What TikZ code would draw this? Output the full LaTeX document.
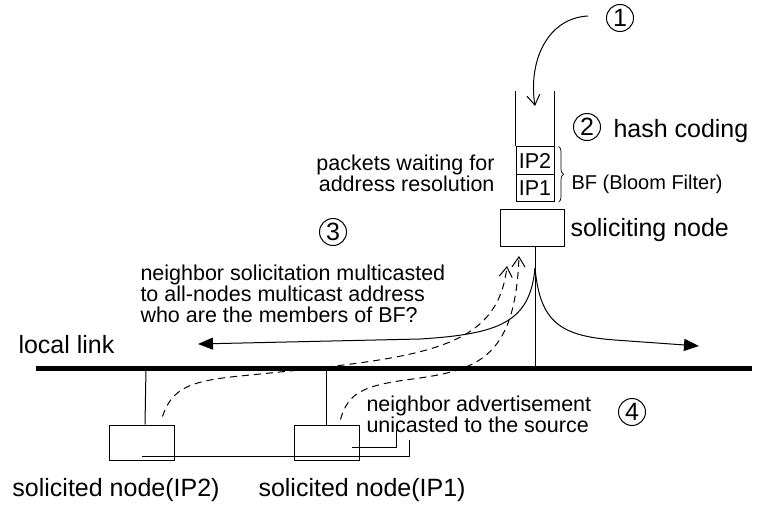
\documentclass[tikz,border=0pt]{standalone}
\usepackage{fontspec}
\setmainfont{Liberation Sans}
\usetikzlibrary{calc,arrows.meta,decorations.pathreplacing}
\newcommand{\bigsize}{\fontsize{25}{26}\selectfont}
\newcommand{\smallsize}{\fontsize{21.5}{21}\selectfont}
\newcommand{\numsize}{\fontsize{25}{25}\selectfont}
\def\linky{368}
\def\cellwdth{38}
\def\cellheight{27.5}

\begin{document}
\begin{tikzpicture}[x=1pt,y=-1pt,line width=1pt,
  num/.style={circle,draw,inner sep=0pt,minimum size=27pt,font=\numsize},
  cell/.style={draw,inner sep=0pt,minimum width=\cellwdth pt,minimum height=\cellheight pt,font=\smallsize},
  station/.style={draw,inner sep=0pt,minimum width=65pt,minimum height=35pt},
  lbl/.style={inner sep=0pt,font=\smallsize},
  biglbl/.style={inner sep=0pt,font=\bigsize},
  openarr/.style={-{Straight Barb[length=10pt,width=13pt]}},
  solidarr/.style={-{Triangle[length=15pt,width=12pt]}},
  reply/.style={openarr,dash pattern=on 7pt off 5pt}]

\useasboundingbox (0,0) rectangle (758,506);

% QUEUE
\node[cell] (cellb) at (535,160.5) {IP2};
\node[cell] (cella) at (535,188) {IP1};
\draw (cellb.north west) -- ++(0,-55);
\draw (cellb.north east) -- ++(0,-55);
\draw[line width=0.7pt,decorate,decoration={brace,amplitude=5pt}] ($(cellb.north east)+(4,0)$) -- ($(cella.south east)+(4,0)$);
\node[lbl,anchor=west,font=\fontsize{20}{21}\selectfont] (bf) at (571,184) {BF (Bloom Filter)};
\node[lbl,anchor=east,align=right] (pkt) at (495,173) {packets waiting for\\address resolution};

% STEP 1 AND 2
\node[num] (one) at (620,18) {1};
\coordinate (inflow) at (588,16);
\draw[openarr] (inflow) .. controls (548,18) and (528,60) .. (535,106);
\node[num] (two) at (587,127) {2};
\node[biglbl,anchor=west] (hash) at (613,131) {hash coding};

% SOLICITING NODE
\node[draw,inner sep=0pt,minimum width=64pt,minimum height=37pt] (solicit) at (532,227.5) {};
\node[biglbl,anchor=west] (solicitlbl) at (570,230) {soliciting node};
\coordinate (stem) at (535,\linky);
\coordinate (fork) at (535,268);
\draw (solicit.south -| stem) -- (stem);

% STEP 3
\node[num] (three) at (333,232) {3};
\node[lbl,anchor=west,align=left] (nsol) at (140,294) {neighbor solicitation multicasted\\to all-nodes multicast address\\who are the members of BF?};
\coordinate (leftend) at (198,344);
\coordinate (rightend) at (699,346);
\draw[solidarr] (fork) .. controls (530,322) and (500,334) .. (420,339) -- (leftend);
\draw[solidarr] (fork) .. controls (540,322) and (560,336) .. (615,340) -- (rightend);

% LOCAL LINK
\draw[line width=5pt] (36,\linky) -- (752,\linky);
\node[biglbl,anchor=west] (link) at (18,345) {local link};

% SOLICITED NODES
\node[station] (sol2) at (141.5,442.5) {};
\node[station] (sol1) at (326.5,442.5) {};
\coordinate (tap2) at (146,\linky);
\coordinate (tap1) at (326,\linky);
\draw (tap2) -- (sol2.north -| 145,0);
\draw (tap1) -- (tap1 |- sol1.north);
\node[biglbl,anchor=west] (sol2lbl) at (12,490) {solicited node(IP2)};
\node[biglbl,anchor=west] (sol1lbl) at (258,490) {solicited node(IP1)};

% STEP 4
\coordinate (tipa) at (507,266);
\coordinate (tipb) at (519,256);
\draw[reply] ($(sol2.north)+(21,-8)$) .. controls (172,388) and (190,381) .. (240,376) .. controls (420,358) and (497,352) .. (tipa);
\draw[reply] ($(sol1.north)+(14,-5)$) .. controls (348,392) and (365,386) .. (405,380) .. controls (475,371) and (515,362) .. (tipb);
\node[lbl,anchor=west,align=left] (adv) at (366,414) {neighbor advertisement\\unicasted to the source};
\node[num] (four) at (632,412) {4};
\draw[line width=0.7pt] ($(sol2.center)+(0.5,13.5)$) -| (409,440);
\draw[line width=0.7pt] ($(sol1.center)+(25.5,4.5)$) -| (396,430);

\end{tikzpicture}
\end{document}
